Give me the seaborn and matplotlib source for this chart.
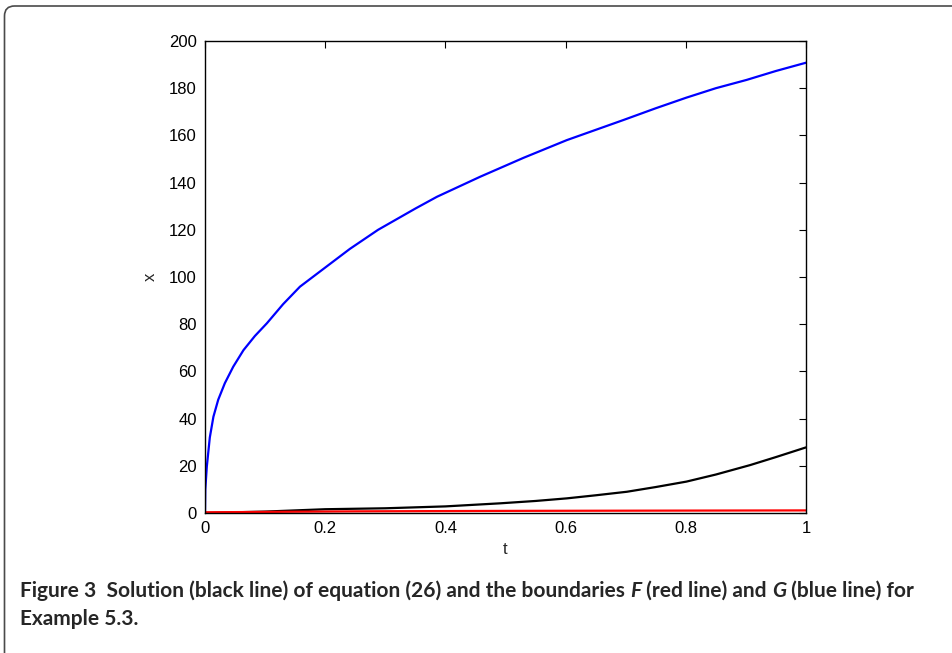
import numpy as np
import pandas as pd
import seaborn as sns
import matplotlib.pyplot as plt
from matplotlib import font_manager
from matplotlib.patches import FancyBboxPatch
from matplotlib.transforms import IdentityTransform

# values
blue_t = [0, 0.0005, 0.003, 0.008, 0.014, 0.022, 0.033, 0.047, 0.064, 0.083, 0.103,
          0.13, 0.158, 0.2, 0.241, 0.288, 0.35, 0.386, 0.458, 0.53, 0.602, 0.696,
          0.75, 0.801, 0.85, 0.901, 0.95, 1.0]
blue_x = [0, 10, 19.6, 32, 40.8, 48, 55, 62, 69, 75, 80.4,
          88.5, 95.9, 104, 111.9, 120, 129, 134, 142.5, 150.5, 158, 166.5,
          171.5, 176, 180, 183.5, 187.3, 190.8]

black_t = [0, 0.1, 0.2, 0.3, 0.4, 0.491, 0.55, 0.602, 0.65, 0.702, 0.75, 0.801,
           0.85, 0.907, 0.95, 1.0]
black_x = [0, 0.6, 1.6, 2.0, 2.8, 4.1, 5.1, 6.2, 7.5, 9.0, 11.0, 13.3,
           16.3, 20.3, 23.7, 27.8]

red_t = [0, 0.25, 0.5, 0.75, 1.0]
red_x = [0.3, 0.7, 0.9, 1.0, 1.1]

x_ticks = [0, 0.2, 0.4, 0.6, 0.8, 1]
x_labels = ['0', '0.2', '0.4', '0.6', '0.8', '1']
y_ticks = [0, 20, 40, 60, 80, 100, 120, 140, 160, 180, 200]

sns.set_style('white')

# pick a Helvetica-like face that is really installed
names = {f.name for f in font_manager.fontManager.ttflist}
axis_font = next((n for n in ['Liberation Sans', 'Arimo', 'Noto Sans', 'DejaVu Sans'] if n in names),
                 'DejaVu Sans')
plt.rcParams['font.family'] = [axis_font, 'DejaVu Sans']

fig = plt.figure(figsize=(9.53, 6.53), dpi=100)
ax = fig.add_axes([205 / 953, 1 - 513 / 653, 601 / 953, 472 / 653])

sns.lineplot(x=blue_t, y=blue_x, color='#0000ff', lw=1.6, ax=ax)
sns.lineplot(x=black_t, y=black_x, color='black', lw=1.6, ax=ax)
sns.lineplot(x=red_t, y=red_x, color='#ff0000', lw=1.6, ax=ax)

ax.set_xlim(0, 1)
ax.set_ylim(0, 200)
ax.set_xticks(x_ticks)
ax.set_xticklabels(x_labels, family=axis_font, fontsize=12)
ax.set_yticks(y_ticks)
ax.set_yticklabels([str(v) for v in y_ticks], family=axis_font, fontsize=12)
ax.tick_params(direction='in', length=5, width=0.8, colors='black',
               top=True, right=True, pad=6)
for s in ax.spines.values():
    s.set_visible(True)
    s.set_color('black')
    s.set_linewidth(1.0)
ax.set_xlabel('t', fontsize=12, family=axis_font, labelpad=4)
ax.set_ylabel('x', fontsize=12, family=axis_font, labelpad=8)

# rounded frame around figure + caption (right and bottom edges fall outside)
frame = FancyBboxPatch((4.5, -40), 1000, 653 - 6 + 40, boxstyle='round,pad=0,rounding_size=10',
                       transform=IdentityTransform(), fill=False, ec='#4a4a4a', lw=1.2)
fig.add_artist(frame)

# caption, drawn piece by piece so F and G can be italic
cap_font = ['Lato', 'DejaVu Sans']
line1 = [('Figure 3  Solution (black line) of equation (26) and the boundaries ', 'normal'),
         ('F', 'italic'), (' (red line) and ', 'normal'), ('G', 'italic'),
         (' (blue line) for', 'normal')]
line2 = [('Example 5.3.', 'normal')]

fig.canvas.draw()
renderer = fig.canvas.get_renderer()


def put_line(pieces, x0, y0, size):
    x = x0
    arts = []
    for txt, style in pieces:
        t = fig.text(x / 953, 1 - y0 / 653, txt, fontsize=size, fontweight='bold',
                     fontstyle=style, family=cap_font, va='baseline', ha='left')
        x += t.get_window_extent(renderer=renderer).width
        arts.append(t)
    return x - x0, arts


# fit first line to the width it has in the reference
w, arts = put_line(line1, 20, 597, 12.5)
for a in arts:
    a.remove()
size = 12.5 * 892 / w
put_line(line1, 20, 597, size)
put_line(line2, 20, 625, size)

fig.savefig('out.png', dpi=100)
